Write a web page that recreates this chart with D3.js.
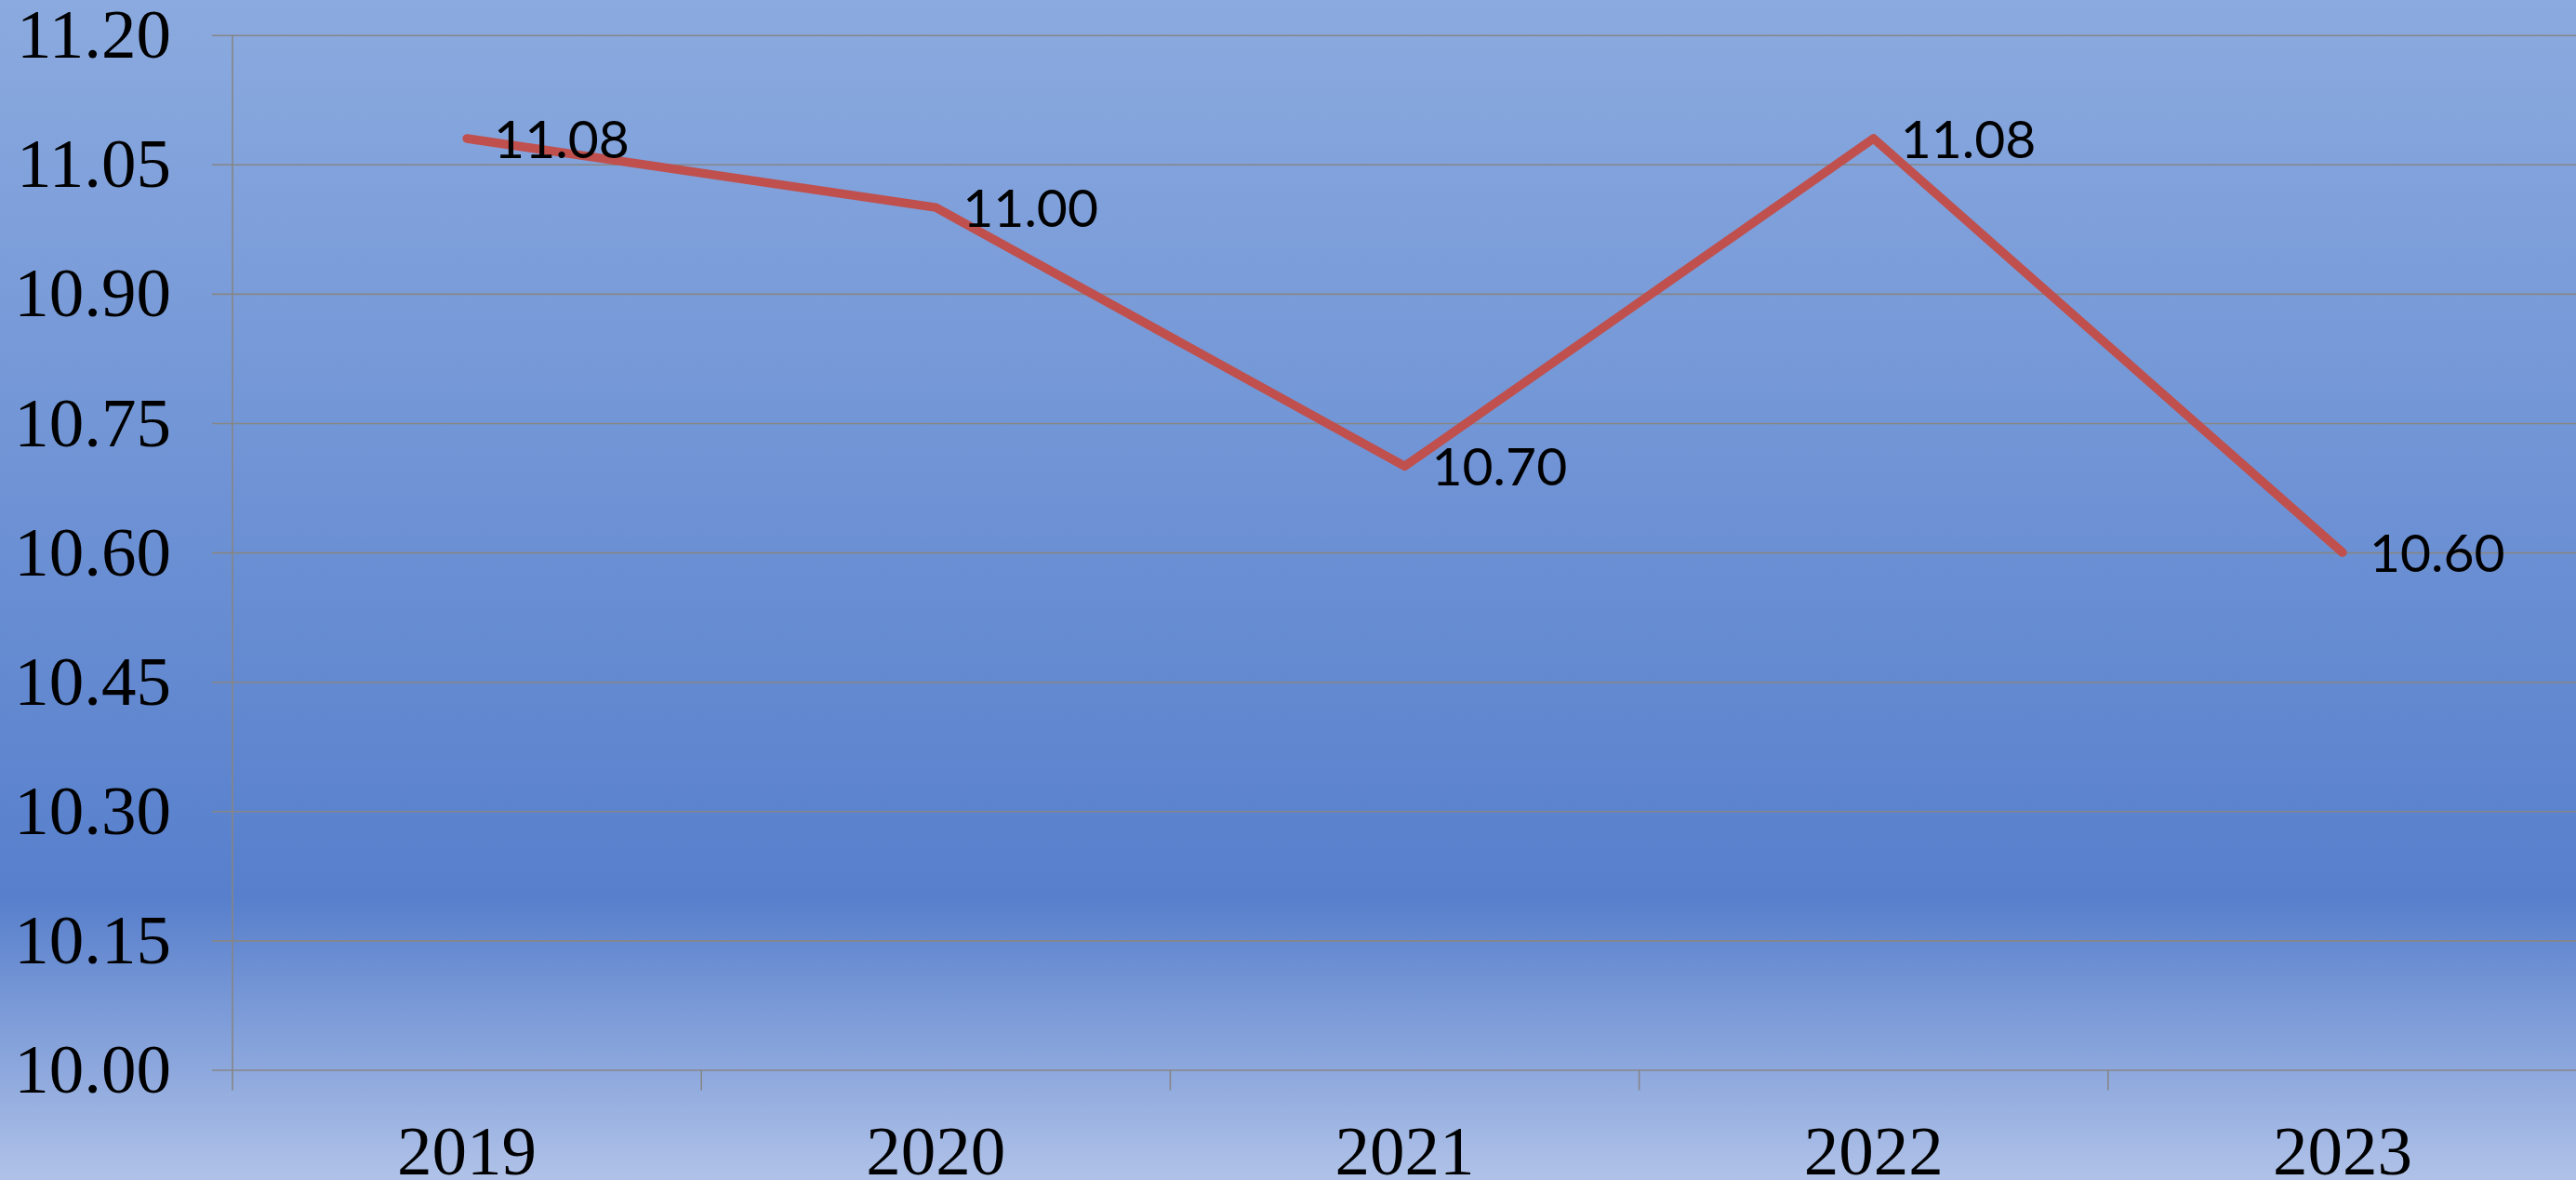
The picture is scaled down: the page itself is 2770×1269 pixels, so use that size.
<!DOCTYPE html>
<html>
<head>
<meta charset="utf-8">
<script src="https://cdn.jsdelivr.net/npm/d3@7"></script>
<style>
  body { margin: 0; }
  svg { display: block; }
</style>
</head>
<body>
<svg id="drawing_region"></svg>
<script>
const width = 2770;
const height = 1269;

// data
const years = ["2019", "2020", "2021", "2022", "2023"];
const values = [11.08, 11.00, 10.70, 11.08, 10.60];
const yTicks = [10.00, 10.15, 10.30, 10.45, 10.60, 10.75, 10.90, 11.05, 11.20];

const plotLeft = 250;
const plotRight = 2771;
const plotTop = 37.7;
const plotBottom = 1150.5;

const svg = d3.select('#drawing_region')
    .attr('width', width)
    .attr('height', height);

// background gradient
const defs = svg.append("defs");
const grad = defs.append("linearGradient")
    .attr("id", "bg")
    .attr("x1", 0).attr("y1", 0)
    .attr("x2", 0).attr("y2", 1);
grad.append("stop").attr("offset", "0%").attr("stop-color", "#8baadf");
grad.append("stop").attr("offset", "76%").attr("stop-color", "#577fcc");
grad.append("stop").attr("offset", "100%").attr("stop-color", "#b0c2e8");

svg.append("rect")
    .attr("width", width)
    .attr("height", height)
    .attr("fill", "url(#bg)");

const xscale = d3.scaleBand()
    .domain(years)
    .range([plotLeft, plotRight])
    .padding(0);

const yscale = d3.scaleLinear()
    .domain([yTicks[0], yTicks[yTicks.length - 1]])
    .range([plotBottom, plotTop]);

// gridlines + y labels
const yAxis = svg.append("g")
    .attr("transform", `translate(${plotRight},0)`)
    .call(d3.axisLeft(yscale)
        .tickValues(yTicks)
        .tickFormat(d => d.toFixed(2))
        .tickSize(plotRight - 228)
        .tickPadding(44));
yAxis.select(".domain").remove();
yAxis.selectAll("line")
    .attr("stroke", "#868686")
    .attr("stroke-width", 1.6);
yAxis.selectAll("text")
    .attr("font-family", "'Liberation Serif', 'Times New Roman', serif")
    .attr("font-size", "75px")
    .attr("fill", "#000");

// vertical axis line
svg.append("line")
    .attr("x1", plotLeft).attr("x2", plotLeft)
    .attr("y1", plotTop).attr("y2", plotBottom + 22)
    .attr("stroke", "#868686")
    .attr("stroke-width", 1.6);

// category tick marks on band boundaries
svg.selectAll("line.xtick")
    .data(years.slice(1))
    .join("line")
    .attr("class", "xtick")
    .attr("x1", d => xscale(d)).attr("x2", d => xscale(d))
    .attr("y1", plotBottom).attr("y2", plotBottom + 22)
    .attr("stroke", "#868686")
    .attr("stroke-width", 1.6);

// x labels
const xAxis = svg.append("g")
    .attr("transform", `translate(0,${plotBottom})`)
    .call(d3.axisBottom(xscale).tickSize(0).tickPadding(59));
xAxis.select(".domain").remove();
xAxis.selectAll("text")
    .attr("font-family", "'Liberation Serif', 'Times New Roman', serif")
    .attr("font-size", "75px")
    .attr("fill", "#000");

// line
const line = d3.line()
    .x((d, i) => xscale(years[i]) + xscale.bandwidth() / 2)
    .y(d => yscale(d));

svg.append("path")
    .datum(values)
    .attr("d", line)
    .attr("fill", "none")
    .attr("stroke", "#c0504d")
    .attr("stroke-width", 9.5)
    .attr("stroke-linecap", "round")
    .attr("stroke-linejoin", "round");

// data labels
svg.selectAll("text.label")
    .data(values)
    .join("text")
    .attr("class", "label")
    .attr("x", (d, i) => xscale(years[i]) + xscale.bandwidth() / 2 + 29)
    .attr("y", d => yscale(d))
    .attr("dy", "0.36em")
    .attr("font-family", "Lato, 'Open Sans', sans-serif")
    .attr("font-size", "57px")
    .attr("fill", "#000")
    .text(d => d.toFixed(2));
</script>
</body>
</html>
